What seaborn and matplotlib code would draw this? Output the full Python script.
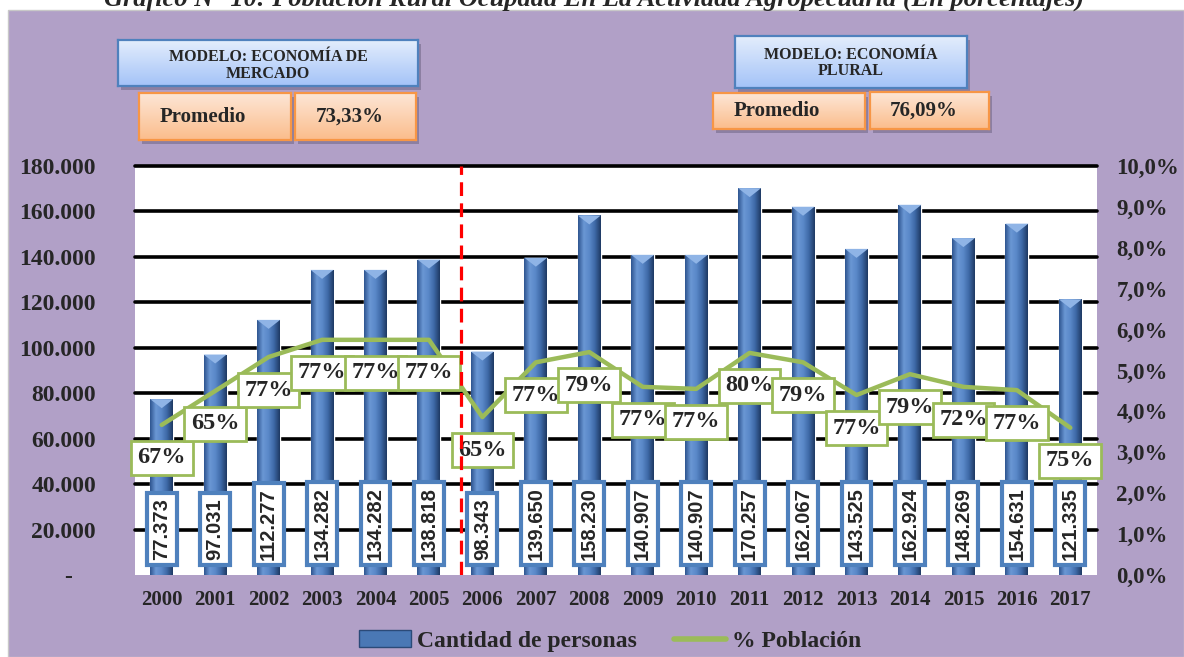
import matplotlib
matplotlib.use('Agg')
import matplotlib.pyplot as plt
import seaborn as sns
import numpy as np
import pandas as pd
from matplotlib.patches import Rectangle, Patch, Polygon
from matplotlib.lines import Line2D
from matplotlib.colors import LinearSegmentedColormap
from matplotlib.font_manager import FontProperties

# datos del grafico
anios = ['2000', '2001', '2002', '2003', '2004', '2005', '2006', '2007', '2008',
         '2009', '2010', '2011', '2012', '2013', '2014', '2015', '2016', '2017']
personas = [77373, 97031, 112277, 134282, 134282, 138818, 98343, 139650, 158230,
            140907, 140907, 170257, 162067, 143525, 162924, 148269, 154631, 121335]
# posicion de la linea verde en el eje derecho (fraccion)
pct_linea = [0.0367, 0.0450, 0.0533, 0.0575, 0.0575, 0.0575, 0.0386, 0.0520, 0.0545,
             0.0460, 0.0455, 0.0543, 0.0520, 0.0440, 0.0491, 0.0460, 0.0452, 0.0360]
# etiquetas que muestra la linea
pct_etiqueta = [67, 65, 77, 77, 77, 77, 65, 77, 79, 77, 77, 80, 79, 77, 79, 72, 77, 75]

ticks_izq = [0, 20000, 40000, 60000, 80000, 100000, 120000, 140000, 160000, 180000]
etiq_izq = ['-    ', '20.000', '40.000', '60.000', '80.000', '100.000', '120.000',
            '140.000', '160.000', '180.000']
ticks_der = [0.0, 0.01, 0.02, 0.03, 0.04, 0.05, 0.06, 0.07, 0.08, 0.09, 0.10]
etiq_der = ['0,0%', '1,0%', '2,0%', '3,0%', '4,0%', '5,0%', '6,0%', '7,0%', '8,0%',
            '9,0%', '10,0%']

titulo = 'Gráfico N° 10: Población Rural Ocupada En La Actividad Agropecuaria (En porcentajes)'

df = pd.DataFrame({'anio': anios, 'personas': personas})

sns.set_style('white')
plt.rcParams['font.family'] = ['Liberation Serif', 'DejaVu Sans']
plt.rcParams['font.weight'] = 'bold'

W, H = 1184, 657
fig = plt.figure(figsize=(W / 100, H / 100), dpi=100)
fig.patch.set_facecolor('white')

# fondo morado
fig.patches.append(Rectangle((8 / W, 0), 1 - 8 / W, 1 - 10 / H, transform=fig.transFigure,
                             facecolor='#b1a0c7', edgecolor='#c8c8c8', lw=1, zorder=-10))

fig.text(594 / W, 1 - 6 / H, titulo, ha='center', va='baseline', fontsize=19,
         fontstyle='italic', fontweight='bold')

# area del grafico
L, R, T, B = 135, 1097, 166, 575
ax = fig.add_axes([L / W, 1 - B / H, (R - L) / W, (B - T) / H])
ax.set_facecolor('white')

sns.barplot(data=df, x='anio', y='personas', ax=ax, color='#4f81bd', width=0.43,
            saturation=1, zorder=1)

# degradado de las barras (efecto cilindro)
cmap_barra = LinearSegmentedColormap.from_list(
    'barra', ['#2f5590', '#6a97d4', '#5a88c8', '#3d68a5', '#1f3a64'])
grad = np.linspace(0, 1, 64).reshape(1, -1)
for p in list(ax.patches):
    x0, w, h = p.get_x(), p.get_width(), p.get_height()
    im = ax.imshow(grad, extent=[x0, x0 + w, 0, h], aspect='auto', cmap=cmap_barra,
                   zorder=1.1)
    im.set_clip_path(p)
    d = 9 / (B - T) * 180000
    ax.add_patch(Polygon([(x0, h), (x0 + w, h), (x0 + w / 2, h - d)], closed=True,
                         facecolor='#8fb4e6', edgecolor='none', zorder=1.2))

for t in ticks_izq[1:]:
    ax.axhline(t, color='black', lw=2.6, zorder=0.5, clip_on=False)

ax.set_xlim(-0.5, len(anios) - 0.5)
ax.set_ylim(0, 180000)
ax.set_yticks(ticks_izq)
ax.set_yticklabels(etiq_izq, fontsize=17, fontweight='bold')
ax.set_xticks(range(len(anios)))
ax.set_xticklabels(anios, fontsize=15, fontweight='bold')
ax.tick_params(axis='y', length=0, pad=28)
ax.tick_params(axis='x', length=0, pad=11)
ax.set_xlabel('')
ax.set_ylabel('')
for s in ax.spines.values():
    s.set_visible(False)

# etiquetas de valor de las barras (letra sin serifa)
fp_barra = FontProperties(family='Liberation Sans', weight='bold', size=14.5)
for i, v in enumerate(personas):
    ax.text(i, 6600, f'{v:,}'.replace(',', '.'), rotation=90, ha='center', va='bottom',
            fontproperties=fp_barra, zorder=3,
            bbox=dict(boxstyle='square,pad=0.27', facecolor='white', edgecolor='#4f81bd',
                      lw=3))

# eje derecho con la linea
ax2 = ax.twinx()
ax2.patch.set_visible(False)
pos = np.arange(len(anios))
sns.lineplot(x=pos, y=pct_linea, ax=ax2, color='#9bbb59', lw=3.2, sort=False, zorder=4)
ax2.set_ylim(0, 0.10)
ax2.set_yticks(ticks_der)
ax2.set_yticklabels(etiq_der, fontsize=16.5, fontweight='bold')
ax2.tick_params(axis='y', length=0, pad=14)
ax2.set_ylabel('')
for s in ax2.spines.values():
    s.set_visible(False)

for i, (v, e) in enumerate(zip(pct_linea, pct_etiqueta)):
    ax2.annotate(f'{e}%', xy=(i, v), xytext=(0, -33), textcoords='offset pixels',
                 ha='center', va='center', fontsize=17.5, fontweight='bold', zorder=5,
                 bbox=dict(boxstyle='square,pad=0.27', facecolor='white',
                           edgecolor='#9bbb59', lw=2))

# separacion entre modelos
ax2.axvline(5.6, ymin=0, ymax=1, color='#ff0000', lw=2.3, ls=(0, (4.3, 2.3)), zorder=6)
ax2.set_xlim(-0.5, len(anios) - 0.5)


def caja(x0, y0, x1, y1, texto, c1, c2, borde, fs, tx=0.5, ty=0.5):
    fig.patches.append(Rectangle(((x0 + 3) / W, 1 - (y1 + 4) / H), (x1 - x0) / W,
                                 (y1 - y0) / H, transform=fig.transFigure,
                                 facecolor='#6f6585', alpha=0.55, edgecolor='none',
                                 zorder=-5))
    bax = fig.add_axes([x0 / W, 1 - y1 / H, (x1 - x0) / W, (y1 - y0) / H])
    cm = LinearSegmentedColormap.from_list('c', [c1, c2])
    bax.imshow(np.linspace(0, 1, 50).reshape(-1, 1), cmap=cm, aspect='auto',
               extent=[0, 1, 0, 1])
    bax.set_xticks([])
    bax.set_yticks([])
    for s in bax.spines.values():
        s.set_color(borde)
        s.set_linewidth(1.6)
    bax.text(tx, ty, texto, ha='center', va='center', fontsize=fs, fontweight='bold',
             transform=bax.transAxes, linespacing=1.05)


azul1, azul2, borde_az = '#e3edfc', '#a4c3f8', '#4f81bd'
nar1, nar2, borde_nar = '#fde6d6', '#fbbd8c', '#f79646'

caja(118, 40, 418, 86, 'MODELO: ECONOMÍA DE\nMERCADO', azul1, azul2, borde_az, 11.5, ty=0.45)
caja(139, 93, 291, 140, 'Promedio', nar1, nar2, borde_nar, 15, tx=0.42)
caja(295, 93, 416, 140, '73,33%', nar1, nar2, borde_nar, 15, tx=0.45)

caja(735, 36, 967, 88, 'MODELO: ECONOMÍA\nPLURAL', azul1, azul2, borde_az, 11.5, ty=0.48)
caja(713, 93, 865, 129, 'Promedio', nar1, nar2, borde_nar, 15, tx=0.42)
caja(870, 92, 989, 129, '76,09%', nar1, nar2, borde_nar, 15, tx=0.45)

# leyenda
h_bar = Patch(facecolor='#4a78b5', edgecolor='#2b4a78', lw=1)
h_lin = Line2D([], [], color='#9bbb59', lw=4)
fig.legend([h_bar, h_lin], ['Cantidad de personas', '% Población'], loc='center',
           bbox_to_anchor=(610 / W, 1 - 641 / H), ncol=2, frameon=False,
           prop=dict(family='Liberation Serif', weight='bold', size=17),
           handlelength=2.2, handletextpad=0.25, columnspacing=1.6)

plt.savefig('out.png', dpi=100)
